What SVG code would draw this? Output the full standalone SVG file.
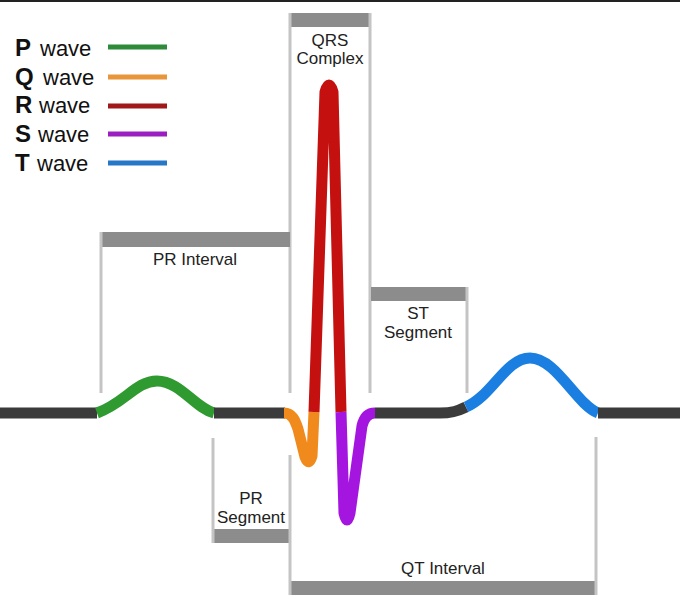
<svg xmlns="http://www.w3.org/2000/svg" width="680" height="610" viewBox="0 0 680 610">
<style>
.lbl{font-family:"Liberation Sans",Arial,sans-serif;font-size:17px;fill:#222;text-anchor:middle}
.leg{font-family:"Liberation Sans",Arial,sans-serif;font-size:22px;fill:#111}
.b{font-weight:bold;font-size:24px}
.bar{fill:#8c8c8c}
.vl{stroke:#c4c4c4;stroke-width:3;fill:none}
.w{fill:none;stroke-width:11;stroke-linecap:butt;stroke-linejoin:round}
.base{stroke:#3b3b3b}
.lg{stroke-width:5}
</style>
<rect width="680" height="610" fill="#fff"/>
<line x1="0" y1="1" x2="680" y2="1" stroke="#222" stroke-width="2"/>

<g id="legend">
<g id="leg-p"><text class="leg b" x="15" y="56">P</text><text class="leg" x="40" y="56">wave</text><line class="lg" x1="108" y1="47" x2="167" y2="47" stroke="#2e8b3a"/></g>
<g id="leg-q"><text class="leg b" x="15" y="85">Q</text><text class="leg" x="43" y="85">wave</text><line class="lg" x1="108" y1="77" x2="167" y2="77" stroke="#e8953c"/></g>
<g id="leg-r"><text class="leg b" x="15" y="113">R</text><text class="leg" x="39" y="113">wave</text><line class="lg" x1="108" y1="106" x2="167" y2="106" stroke="#a01818"/></g>
<g id="leg-s"><text class="leg b" x="15" y="142">S</text><text class="leg" x="38" y="142">wave</text><line class="lg" x1="108" y1="134" x2="167" y2="134" stroke="#9b1fc0"/></g>
<g id="leg-t"><text class="leg b" x="15" y="171">T</text><text class="leg" x="37" y="171">wave</text><line class="lg" x1="108" y1="163" x2="167" y2="163" stroke="#2677c8"/></g>
</g>

<g id="qrs-complex">
<rect class="bar" x="290" y="13" width="81" height="14"/>
<line class="vl" x1="290" y1="13" x2="290" y2="393"/>
<line class="vl" x1="370" y1="13" x2="370" y2="393"/>
<text class="lbl" x="330" y="46">QRS</text>
<text class="lbl" x="330" y="64">Complex</text>
</g>

<g id="pr-interval">
<rect class="bar" x="101" y="232" width="189" height="15"/>
<line class="vl" x1="101" y1="232" x2="101" y2="393"/>
<text class="lbl" x="195" y="265">PR Interval</text>
</g>

<g id="st-segment">
<rect class="bar" x="371" y="287" width="97" height="14"/>
<line class="vl" x1="467" y1="287" x2="467" y2="393"/>
<text class="lbl" x="418" y="319">ST</text>
<text class="lbl" x="418" y="338">Segment</text>
</g>

<g id="pr-segment">
<rect class="bar" x="212" y="529" width="78" height="14"/>
<line class="vl" x1="213" y1="438" x2="213" y2="543"/>
<text class="lbl" x="251" y="504">PR</text>
<text class="lbl" x="251" y="523">Segment</text>
</g>

<g id="qt-interval">
<rect class="bar" x="290" y="581" width="307" height="14"/>
<line class="vl" x1="290" y1="455" x2="290" y2="595"/>
<line class="vl" x1="596" y1="437" x2="596" y2="595"/>
<text class="lbl" x="443" y="574">QT Interval</text>
</g>

<g id="ecg-trace">
<path class="w base" d="M0,413 L97,413"/>
<path class="w" stroke="#2f9a2f" d="M97,413 C125,403 136,381 157,381 C180,381 195,408 214,413"/>
<path class="w base" d="M214,413 L285,413"/>
<path class="w" stroke="#f08a1c" d="M284,413 C292,413 295,420 298,429 L305,457 Q309,467 312,456 L314,412"/>
<path class="w" stroke="#c51010" d="M314,412 L325,92 Q329,78 333,92 L341,412"/>
<path class="w" stroke="#a515e0" d="M341,412 L344,513 Q347,527 350,513 L362,426 Q365,413 375,413"/>
<path class="w base" d="M375,413 L440,413 C452,413 458,411 466,407"/>
<path class="w" stroke="#1a7fe0" d="M466,407 C492,396 506,358 530,358 C556,358 576,404 598,413"/>
<path class="w base" d="M598,413 L680,413"/>
</g>
</svg>
